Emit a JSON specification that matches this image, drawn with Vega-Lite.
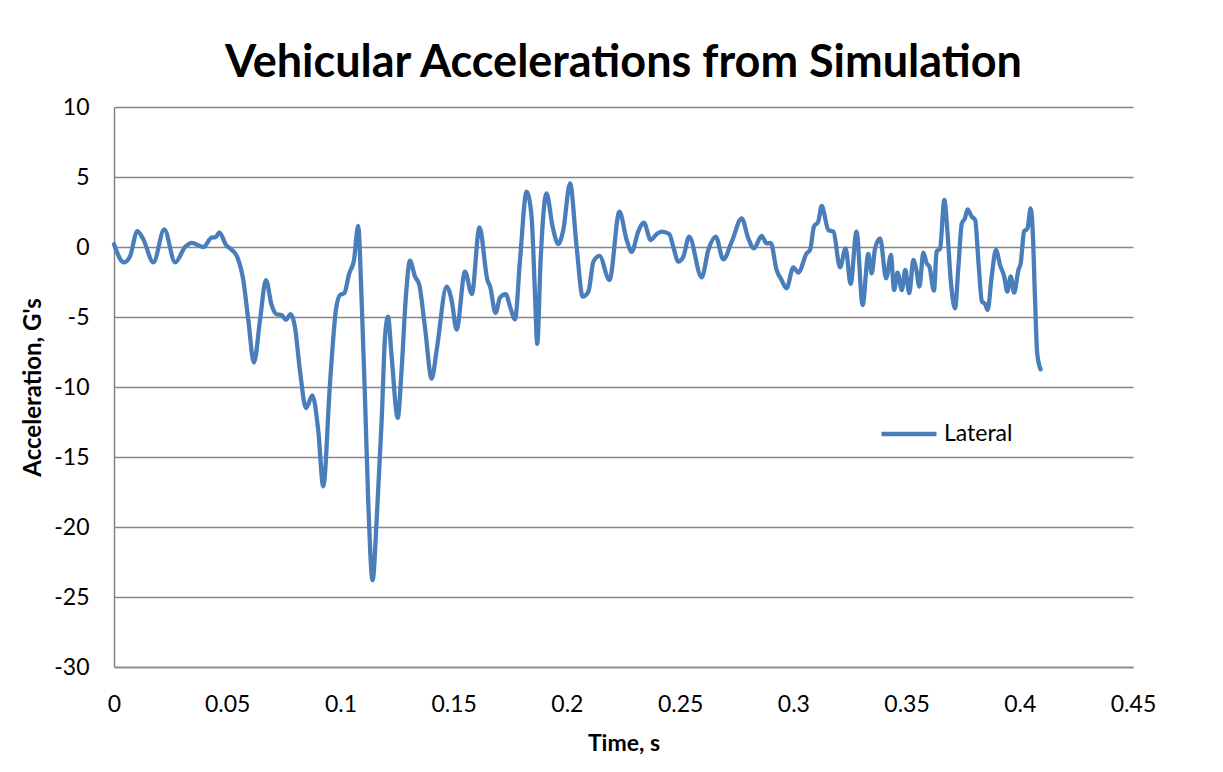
{
  "$schema": "https://vega.github.io/schema/vega-lite/v6.json",
  "width": 1019,
  "height": 560,
  "autosize": {"type": "none"},
  "padding": {"left": 114, "top": 107, "right": 90, "bottom": 105},
  "background": "white",
  "config": {
    "view": {"stroke": null},
    "font": "Lato"
  },
  "title": {
    "text": "Vehicular Accelerations from Simulation",
    "font": "Lato",
    "fontSize": 45,
    "fontWeight": "bold",
    "color": "#000000",
    "anchor": "middle",
    "frame": "group",
    "baseline": "alphabetic",
    "offset": 34,
    "dy": 60
  },
  "data": {
    "values": [
      {"t": 0, "a": 0.2, "s": "Lateral"},
      {"t": 0.0044, "a": -1.1, "s": "Lateral"},
      {"t": 0.007, "a": -0.7, "s": "Lateral"},
      {"t": 0.0103, "a": 1.14, "s": "Lateral"},
      {"t": 0.0129, "a": 0.57, "s": "Lateral"},
      {"t": 0.0174, "a": -1.1, "s": "Lateral"},
      {"t": 0.0222, "a": 1.26, "s": "Lateral"},
      {"t": 0.027, "a": -1.1, "s": "Lateral"},
      {"t": 0.0314, "a": 0.0, "s": "Lateral"},
      {"t": 0.0343, "a": 0.3, "s": "Lateral"},
      {"t": 0.0395, "a": 0.0, "s": "Lateral"},
      {"t": 0.0431, "a": 0.67, "s": "Lateral"},
      {"t": 0.0449, "a": 0.7, "s": "Lateral"},
      {"t": 0.0465, "a": 1.05, "s": "Lateral"},
      {"t": 0.0495, "a": 0.14, "s": "Lateral"},
      {"t": 0.052, "a": -0.2, "s": "Lateral"},
      {"t": 0.0545, "a": -0.74, "s": "Lateral"},
      {"t": 0.0571, "a": -2.36, "s": "Lateral"},
      {"t": 0.0593, "a": -5.2, "s": "Lateral"},
      {"t": 0.0618, "a": -8.26, "s": "Lateral"},
      {"t": 0.0645, "a": -5.2, "s": "Lateral"},
      {"t": 0.0671, "a": -2.36, "s": "Lateral"},
      {"t": 0.0696, "a": -4.14, "s": "Lateral"},
      {"t": 0.0718, "a": -4.8, "s": "Lateral"},
      {"t": 0.074, "a": -4.86, "s": "Lateral"},
      {"t": 0.0759, "a": -5.2, "s": "Lateral"},
      {"t": 0.078, "a": -4.8, "s": "Lateral"},
      {"t": 0.0799, "a": -5.7, "s": "Lateral"},
      {"t": 0.0821, "a": -8.8, "s": "Lateral"},
      {"t": 0.0848, "a": -11.5, "s": "Lateral"},
      {"t": 0.0876, "a": -10.6, "s": "Lateral"},
      {"t": 0.0902, "a": -13.1, "s": "Lateral"},
      {"t": 0.0924, "a": -17.1, "s": "Lateral"},
      {"t": 0.0954, "a": -9.7, "s": "Lateral"},
      {"t": 0.098, "a": -4.5, "s": "Lateral"},
      {"t": 0.0998, "a": -3.43, "s": "Lateral"},
      {"t": 0.1017, "a": -3.3, "s": "Lateral"},
      {"t": 0.1039, "a": -1.88, "s": "Lateral"},
      {"t": 0.106, "a": -0.93, "s": "Lateral"},
      {"t": 0.1078, "a": 1.5, "s": "Lateral"},
      {"t": 0.1094, "a": -4.0, "s": "Lateral"},
      {"t": 0.1109, "a": -11.1, "s": "Lateral"},
      {"t": 0.1123, "a": -18.3, "s": "Lateral"},
      {"t": 0.1142, "a": -23.8, "s": "Lateral"},
      {"t": 0.116, "a": -19.5, "s": "Lateral"},
      {"t": 0.1182, "a": -12.4, "s": "Lateral"},
      {"t": 0.1197, "a": -6.4, "s": "Lateral"},
      {"t": 0.121, "a": -4.98, "s": "Lateral"},
      {"t": 0.1226, "a": -7.8, "s": "Lateral"},
      {"t": 0.1253, "a": -12.2, "s": "Lateral"},
      {"t": 0.127, "a": -8.8, "s": "Lateral"},
      {"t": 0.1289, "a": -3.55, "s": "Lateral"},
      {"t": 0.1307, "a": -0.98, "s": "Lateral"},
      {"t": 0.1329, "a": -2.1, "s": "Lateral"},
      {"t": 0.1348, "a": -2.7, "s": "Lateral"},
      {"t": 0.1373, "a": -5.7, "s": "Lateral"},
      {"t": 0.1403, "a": -9.4, "s": "Lateral"},
      {"t": 0.1425, "a": -7.36, "s": "Lateral"},
      {"t": 0.1469, "a": -2.83, "s": "Lateral"},
      {"t": 0.1491, "a": -3.8, "s": "Lateral"},
      {"t": 0.1513, "a": -5.9, "s": "Lateral"},
      {"t": 0.155, "a": -1.76, "s": "Lateral"},
      {"t": 0.158, "a": -3.36, "s": "Lateral"},
      {"t": 0.1614, "a": 1.4, "s": "Lateral"},
      {"t": 0.1649, "a": -2.36, "s": "Lateral"},
      {"t": 0.1661, "a": -2.83, "s": "Lateral"},
      {"t": 0.1685, "a": -4.7, "s": "Lateral"},
      {"t": 0.1705, "a": -3.6, "s": "Lateral"},
      {"t": 0.173, "a": -3.36, "s": "Lateral"},
      {"t": 0.1749, "a": -4.26, "s": "Lateral"},
      {"t": 0.1771, "a": -5.17, "s": "Lateral"},
      {"t": 0.1793, "a": -0.93, "s": "Lateral"},
      {"t": 0.1822, "a": 3.95, "s": "Lateral"},
      {"t": 0.1844, "a": 2.17, "s": "Lateral"},
      {"t": 0.1859, "a": -3.3, "s": "Lateral"},
      {"t": 0.1869, "a": -6.93, "s": "Lateral"},
      {"t": 0.1884, "a": -0.93, "s": "Lateral"},
      {"t": 0.191, "a": 3.83, "s": "Lateral"},
      {"t": 0.1937, "a": 1.45, "s": "Lateral"},
      {"t": 0.1962, "a": 0.21, "s": "Lateral"},
      {"t": 0.1984, "a": 1.21, "s": "Lateral"},
      {"t": 0.2014, "a": 4.55, "s": "Lateral"},
      {"t": 0.2043, "a": 0.0, "s": "Lateral"},
      {"t": 0.207, "a": -3.55, "s": "Lateral"},
      {"t": 0.2095, "a": -3.19, "s": "Lateral"},
      {"t": 0.2117, "a": -1.05, "s": "Lateral"},
      {"t": 0.2144, "a": -0.64, "s": "Lateral"},
      {"t": 0.2188, "a": -2.36, "s": "Lateral"},
      {"t": 0.2232, "a": 2.52, "s": "Lateral"},
      {"t": 0.2264, "a": 0.5, "s": "Lateral"},
      {"t": 0.2286, "a": -0.35, "s": "Lateral"},
      {"t": 0.2315, "a": 1.1, "s": "Lateral"},
      {"t": 0.234, "a": 1.74, "s": "Lateral"},
      {"t": 0.237, "a": 0.5, "s": "Lateral"},
      {"t": 0.2397, "a": 0.93, "s": "Lateral"},
      {"t": 0.2419, "a": 1.1, "s": "Lateral"},
      {"t": 0.2452, "a": 0.93, "s": "Lateral"},
      {"t": 0.247, "a": 0.0, "s": "Lateral"},
      {"t": 0.2492, "a": -1.05, "s": "Lateral"},
      {"t": 0.2514, "a": -0.7, "s": "Lateral"},
      {"t": 0.254, "a": 0.74, "s": "Lateral"},
      {"t": 0.2595, "a": -2.17, "s": "Lateral"},
      {"t": 0.2625, "a": -0.2, "s": "Lateral"},
      {"t": 0.2657, "a": 0.74, "s": "Lateral"},
      {"t": 0.2691, "a": -0.88, "s": "Lateral"},
      {"t": 0.2728, "a": 0.38, "s": "Lateral"},
      {"t": 0.2772, "a": 2.05, "s": "Lateral"},
      {"t": 0.2801, "a": 0.62, "s": "Lateral"},
      {"t": 0.2826, "a": -0.1, "s": "Lateral"},
      {"t": 0.286, "a": 0.79, "s": "Lateral"},
      {"t": 0.2882, "a": 0.26, "s": "Lateral"},
      {"t": 0.29, "a": 0.3, "s": "Lateral"},
      {"t": 0.2926, "a": -1.64, "s": "Lateral"},
      {"t": 0.2948, "a": -2.36, "s": "Lateral"},
      {"t": 0.297, "a": -2.95, "s": "Lateral"},
      {"t": 0.3, "a": -1.45, "s": "Lateral"},
      {"t": 0.3022, "a": -1.83, "s": "Lateral"},
      {"t": 0.3059, "a": -0.45, "s": "Lateral"},
      {"t": 0.3074, "a": -0.2, "s": "Lateral"},
      {"t": 0.3091, "a": 1.45, "s": "Lateral"},
      {"t": 0.311, "a": 1.81, "s": "Lateral"},
      {"t": 0.3125, "a": 2.93, "s": "Lateral"},
      {"t": 0.3155, "a": 1.21, "s": "Lateral"},
      {"t": 0.3177, "a": 1.1, "s": "Lateral"},
      {"t": 0.3206, "a": -1.45, "s": "Lateral"},
      {"t": 0.3231, "a": -0.1, "s": "Lateral"},
      {"t": 0.3253, "a": -2.64, "s": "Lateral"},
      {"t": 0.3279, "a": 1.1, "s": "Lateral"},
      {"t": 0.3306, "a": -4.14, "s": "Lateral"},
      {"t": 0.3331, "a": -0.5, "s": "Lateral"},
      {"t": 0.3346, "a": -1.88, "s": "Lateral"},
      {"t": 0.3361, "a": -0.1, "s": "Lateral"},
      {"t": 0.3383, "a": 0.62, "s": "Lateral"},
      {"t": 0.341, "a": -2.24, "s": "Lateral"},
      {"t": 0.3431, "a": -0.57, "s": "Lateral"},
      {"t": 0.3445, "a": -3.07, "s": "Lateral"},
      {"t": 0.346, "a": -1.83, "s": "Lateral"},
      {"t": 0.3479, "a": -3.07, "s": "Lateral"},
      {"t": 0.3494, "a": -1.64, "s": "Lateral"},
      {"t": 0.3512, "a": -3.3, "s": "Lateral"},
      {"t": 0.353, "a": -0.93, "s": "Lateral"},
      {"t": 0.3542, "a": -1.52, "s": "Lateral"},
      {"t": 0.3557, "a": -2.83, "s": "Lateral"},
      {"t": 0.3574, "a": -0.4, "s": "Lateral"},
      {"t": 0.3589, "a": -1.17, "s": "Lateral"},
      {"t": 0.3601, "a": -1.4, "s": "Lateral"},
      {"t": 0.3621, "a": -3.12, "s": "Lateral"},
      {"t": 0.3633, "a": -0.33, "s": "Lateral"},
      {"t": 0.3648, "a": -0.1, "s": "Lateral"},
      {"t": 0.3667, "a": 3.36, "s": "Lateral"},
      {"t": 0.368, "a": 1.21, "s": "Lateral"},
      {"t": 0.3695, "a": -2.36, "s": "Lateral"},
      {"t": 0.3714, "a": -4.38, "s": "Lateral"},
      {"t": 0.3729, "a": -1.4, "s": "Lateral"},
      {"t": 0.3744, "a": 1.69, "s": "Lateral"},
      {"t": 0.3758, "a": 2.05, "s": "Lateral"},
      {"t": 0.3769, "a": 2.69, "s": "Lateral"},
      {"t": 0.3788, "a": 2.17, "s": "Lateral"},
      {"t": 0.3803, "a": 1.93, "s": "Lateral"},
      {"t": 0.3818, "a": -1.17, "s": "Lateral"},
      {"t": 0.3833, "a": -3.9, "s": "Lateral"},
      {"t": 0.3847, "a": -4.07, "s": "Lateral"},
      {"t": 0.3858, "a": -4.5, "s": "Lateral"},
      {"t": 0.3876, "a": -2.1, "s": "Lateral"},
      {"t": 0.3895, "a": -0.2, "s": "Lateral"},
      {"t": 0.3913, "a": -1.29, "s": "Lateral"},
      {"t": 0.3931, "a": -2.1, "s": "Lateral"},
      {"t": 0.3945, "a": -3.19, "s": "Lateral"},
      {"t": 0.396, "a": -2.1, "s": "Lateral"},
      {"t": 0.3975, "a": -3.26, "s": "Lateral"},
      {"t": 0.3994, "a": -1.64, "s": "Lateral"},
      {"t": 0.4004, "a": -1.17, "s": "Lateral"},
      {"t": 0.4019, "a": 1.1, "s": "Lateral"},
      {"t": 0.4034, "a": 1.33, "s": "Lateral"},
      {"t": 0.4048, "a": 2.76, "s": "Lateral"},
      {"t": 0.4057, "a": 1.21, "s": "Lateral"},
      {"t": 0.4067, "a": -3.55, "s": "Lateral"},
      {"t": 0.4077, "a": -7.6, "s": "Lateral"},
      {"t": 0.4092, "a": -8.74, "s": "Lateral"}
    ]
  },
  "mark": {"type": "line", "interpolate": "monotone", "strokeWidth": 4.3, "strokeJoin": "round", "strokeCap": "round"},
  "encoding": {
    "x": {
      "field": "t",
      "type": "quantitative",
      "scale": {"domain": [0, 0.45], "nice": false, "zero": false},
      "axis": {
        "title": "Time, s",
        "values": [0, 0.05, 0.1, 0.15, 0.2, 0.25, 0.3, 0.35, 0.4, 0.45],
        "labelExpr": "'' + datum.value",
        "grid": false,
        "ticks": false,
        "tickSize": 0,
        "domain": true,
        "domainColor": "#868686",
        "domainWidth": 1.5,
        "labelFont": "Lato",
        "labelFontSize": 23,
        "labelColor": "#000000",
        "labelBaseline": "alphabetic",
        "labelPadding": 44,
        "labelFlush": false,
        "labelOverlap": false,
        "titleFont": "Lato",
        "titleFontSize": 23,
        "titleFontWeight": "bold",
        "titleColor": "#000000",
        "titleBaseline": "alphabetic",
        "titleY": 83,
        "titleX": 509.5
      }
    },
    "y": {
      "field": "a",
      "type": "quantitative",
      "scale": {"domain": [-30, 10], "nice": false, "zero": false},
      "axis": {
        "title": "Acceleration, G's",
        "values": [-30, -25, -20, -15, -10, -5, 0, 5, 10],
        "labelExpr": "'' + datum.value",
        "grid": true,
        "gridColor": "#868686",
        "gridWidth": 1.5,
        "ticks": false,
        "tickSize": 0,
        "domain": true,
        "domainColor": "#868686",
        "domainWidth": 1.5,
        "labelFont": "Lato",
        "labelFontSize": 23,
        "labelColor": "#000000",
        "labelPadding": 25,
        "labelFlush": false,
        "labelOverlap": false,
        "titleFont": "Lato",
        "titleFontSize": 24,
        "titleFontWeight": "bold",
        "titleColor": "#000000",
        "titleAngle": -90,
        "titleAlign": "center",
        "titleBaseline": "middle",
        "titleX": -81,
        "titleY": 280
      }
    },
    "color": {
      "field": "s",
      "type": "nominal",
      "scale": {"range": ["#4A7EBB"]},
      "legend": {
        "title": null,
        "orient": "none",
        "legendX": 765,
        "legendY": 297,
        "symbolType": "stroke",
        "symbolSize": 3025,
        "symbolStrokeWidth": 4.3,
        "labelFont": "Lato",
        "labelFontSize": 23,
        "labelColor": "#000000",
        "labelOffset": 5
      }
    }
  }
}
